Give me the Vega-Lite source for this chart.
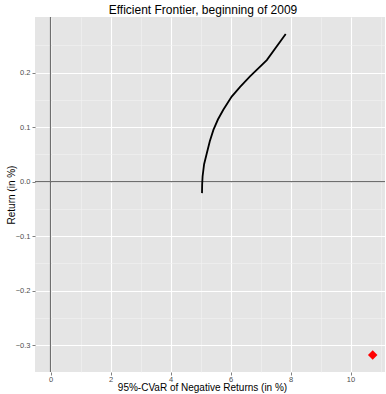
{
  "$schema": "https://vega.github.io/schema/vega-lite/v6.json",
  "width": 350,
  "height": 355,
  "autosize": {"type": "none"},
  "padding": {"left": 35, "top": 17, "right": 1, "bottom": 22},
  "background": "white",
  "title": {
    "text": "Efficient Frontier, beginning of 2009",
    "font": "Liberation Sans",
    "fontSize": 12,
    "fontWeight": "normal",
    "color": "black",
    "anchor": "middle",
    "dx": -7,
    "offset": -1
  },
  "config": {
    "view": {"fill": "#e5e5e5", "stroke": null},
    "axis": {
      "labelFont": "Liberation Sans",
      "titleFont": "Liberation Sans",
      "titleFontWeight": "normal",
      "titleColor": "black",
      "labelColor": "#4d4d4d",
      "tickColor": "#7f7f7f",
      "domain": false
    }
  },
  "datasets": {
    "frontier": [
      {"cvar": 5.05, "ret": -0.021},
      {"cvar": 5.055, "ret": -0.005},
      {"cvar": 5.07, "ret": 0.01},
      {"cvar": 5.12, "ret": 0.032},
      {"cvar": 5.21, "ret": 0.052},
      {"cvar": 5.31, "ret": 0.074},
      {"cvar": 5.43, "ret": 0.095},
      {"cvar": 5.58, "ret": 0.114},
      {"cvar": 5.76, "ret": 0.132},
      {"cvar": 6.04, "ret": 0.156},
      {"cvar": 6.32, "ret": 0.174},
      {"cvar": 6.65, "ret": 0.193},
      {"cvar": 7.21, "ret": 0.223},
      {"cvar": 7.84, "ret": 0.271}
    ],
    "single": [
      {"cvar": 10.74, "ret": -0.318}
    ],
    "zero": [
      {"value": 0}
    ]
  },
  "resolve": {"axis": {"x": "independent", "y": "independent"}},
  "layer": [
    {
      "data": {"name": "zero"},
      "mark": {"type": "rule", "color": "#6e6e6e", "strokeWidth": 1.2},
      "encoding": {
        "x": {
          "field": "value",
          "type": "quantitative",
          "scale": {"domain": [-0.517, 11.15], "nice": false, "zero": false},
          "axis": {"orient": "top", "values": [1, 3, 5, 7, 9, 11], "grid": true, "gridColor": "#f2f2f2", "gridWidth": 0.6, "labels": false, "ticks": false, "title": null, "domain": false}
        }
      }
    },
    {
      "data": {"name": "zero"},
      "mark": {"type": "rule", "color": "#6e6e6e", "strokeWidth": 1.2},
      "encoding": {
        "y": {
          "field": "value",
          "type": "quantitative",
          "scale": {"domain": [-0.349, 0.302], "nice": false, "zero": false},
          "axis": {"orient": "right", "values": [-0.25, -0.15, -0.05, 0.05, 0.15, 0.25], "grid": true, "gridColor": "#f2f2f2", "gridWidth": 0.6, "labels": false, "ticks": false, "title": null, "domain": false}
        }
      }
    },
    {
      "data": {"name": "frontier"},
      "mark": {"type": "line", "color": "black", "strokeWidth": 1.8},
      "encoding": {
        "x": {
          "field": "cvar",
          "type": "quantitative",
          "axis": {"orient": "bottom", "values": [0, 2, 4, 6, 8, 10], "grid": true, "gridColor": "white", "gridWidth": 1.1, "tickSize": 3, "labelFontSize": 7.5, "labelPadding": 0, "title": "95%-CVaR of Negative Returns (in %)", "titleFontSize": 10, "titlePadding": 0, "titleX": 167}
        },
        "y": {
          "field": "ret",
          "type": "quantitative",
          "axis": {"orient": "left", "values": [-0.3, -0.2, -0.1, 0, 0.1, 0.2], "format": ".1f", "grid": true, "gridColor": "white", "gridWidth": 1.1, "tickSize": 3, "labelFontSize": 7.5, "labelPadding": 2, "title": "Return (in %)", "titleFontSize": 10, "titlePadding": -1}
        }
      }
    },
    {
      "data": {"name": "single"},
      "mark": {"type": "point", "shape": "diamond", "filled": true, "color": "red", "opacity": 1, "size": 90},
      "encoding": {
        "x": {"field": "cvar", "type": "quantitative", "axis": null},
        "y": {"field": "ret", "type": "quantitative", "axis": null}
      }
    }
  ]
}
